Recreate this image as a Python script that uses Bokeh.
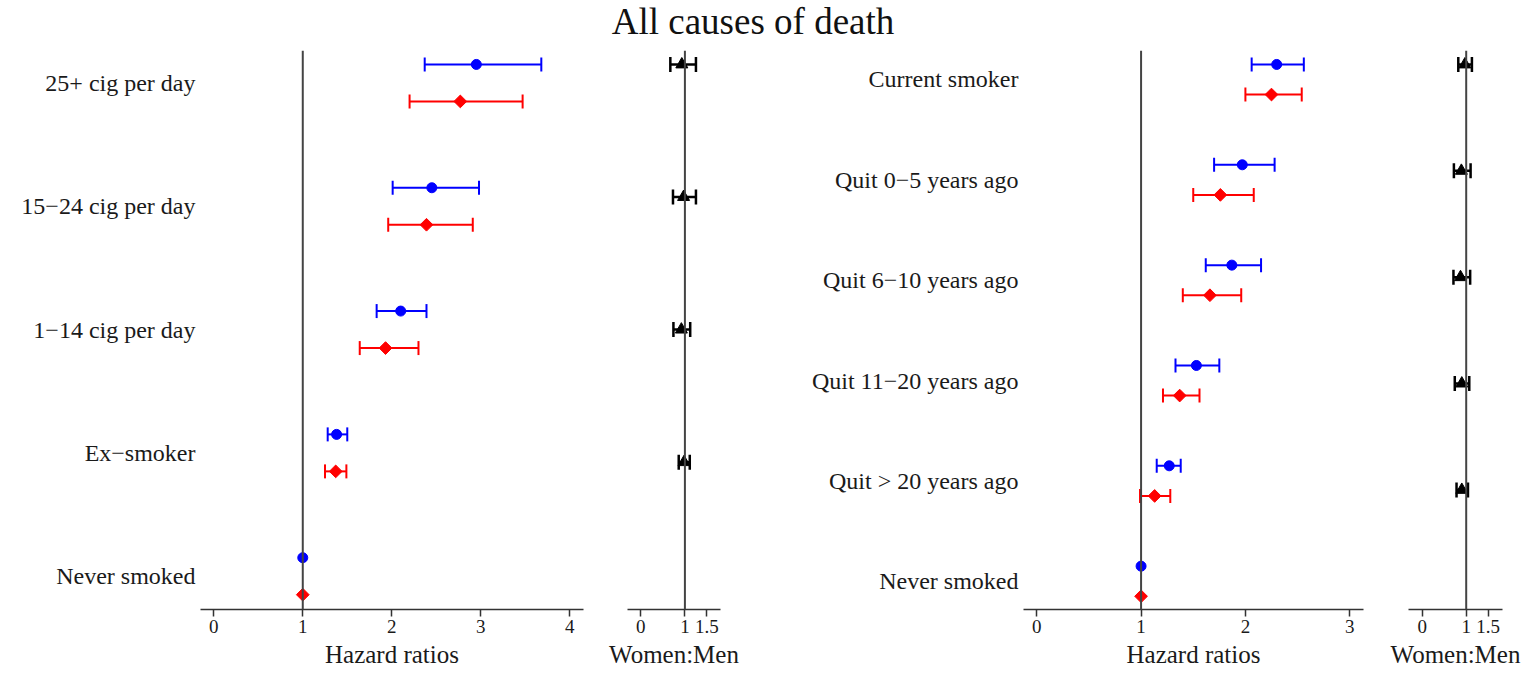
import numpy as np
from bokeh.plotting import figure
from bokeh.models import (ColumnDataSource, Whisker, TeeHead, Span, FixedTicker,
                          Range1d, Div)
from bokeh.layouts import row, column
from bokeh.embed import file_html
from bokeh.resources import INLINE

# ---------------- data (bottom to top) ----------------
title_text = "All causes of death"

left_categories = ["Never smoked", "Ex\u2212smoker", "1\u221214 cig per day",
                   "15\u221224 cig per day", "25+ cig per day"]
left_men = [1.00, 1.38, 2.10, 2.45, 2.95]
left_men_lo = [None, 1.28, 1.83, 2.01, 2.37]
left_men_hi = [None, 1.50, 2.39, 2.98, 3.68]
left_women = [1.00, 1.37, 1.93, 2.39, 2.77]
left_women_lo = [None, 1.25, 1.64, 1.96, 2.20]
left_women_hi = [None, 1.49, 2.30, 2.91, 3.47]
left_ratio = [None, 0.98, 0.92, 0.97, 0.93]
left_ratio_lo = [None, 0.86, 0.74, 0.73, 0.67]
left_ratio_hi = [None, 1.11, 1.12, 1.25, 1.25]

right_categories = ["Never smoked", "Quit > 20 years ago", "Quit 11\u221220 years ago",
                    "Quit 6\u221210 years ago", "Quit 0\u22125 years ago", "Current smoker"]
right_men = [1.00, 1.27, 1.53, 1.87, 1.97, 2.30]
right_men_lo = [None, 1.15, 1.33, 1.62, 1.70, 2.06]
right_men_hi = [None, 1.38, 1.75, 2.15, 2.28, 2.56]
right_women = [1.00, 1.13, 1.37, 1.66, 1.76, 2.25]
right_women_lo = [None, 0.99, 1.21, 1.40, 1.50, 2.00]
right_women_hi = [None, 1.28, 1.56, 1.96, 2.08, 2.54]
right_ratio = [None, 0.90, 0.90, 0.87, 0.89, 0.97]
right_ratio_lo = [None, 0.78, 0.74, 0.71, 0.72, 0.82]
right_ratio_hi = [None, 1.04, 1.07, 1.09, 1.10, 1.13]

hr_ticks_left = [0, 1, 2, 3, 4]
hr_ticks_right = [0, 1, 2, 3]
ratio_ticks = [0, 1, 1.5]
x_label_main = "Hazard ratios"
x_label_ratio = "Women:Men"

# ---------------- styling ----------------
FONT = "Liberation Serif"
BLUE = "#0000ff"
RED = "#ff0000"
INK = "#1a1a1a"
OFF = 0.15
FIG_H = 630


def style_x(p, ticks, overrides=None):
    ax = p.xaxis[0]
    ax.ticker = FixedTicker(ticks=ticks)
    if overrides:
        ax.major_label_overrides = overrides
    ax.axis_line_color = "#333333"
    ax.axis_line_width = 1.5
    ax.major_tick_line_color = "#333333"
    ax.major_tick_line_width = 1.5
    ax.major_tick_out = 7
    ax.major_tick_in = 0
    ax.minor_tick_line_color = None
    ax.major_label_text_font = FONT
    ax.major_label_text_font_size = "19px"
    ax.major_label_text_color = INK
    ax.major_label_standoff = 3
    ax.axis_label_text_font = FONT
    ax.axis_label_text_font_size = "25px"
    ax.axis_label_text_font_style = "normal"
    ax.axis_label_text_color = INK
    ax.axis_label_standoff = 5


def base_fig(width, bl, br, xr, yr, with_y):
    p = figure(width=width, height=FIG_H, x_range=Range1d(*xr), y_range=Range1d(*yr),
               output_backend="svg", toolbar_location=None,
               min_border_left=bl, min_border_right=br, min_border_top=6,
               min_border_bottom=65, outline_line_color=None,
               y_axis_location="left" if with_y else None,
               background_fill_color="white", border_fill_color="white")
    p.grid.visible = False
    p.add_layout(Span(location=1, dimension="height", line_color="#444444", line_width=2))
    return p


def whisker(p, src, color, lw, size):
    w = Whisker(source=src, base="y", lower="lo", upper="hi", dimension="width",
                line_color=color, line_width=lw,
                upper_head=TeeHead(size=size, line_color=color, line_width=lw),
                lower_head=TeeHead(size=size, line_color=color, line_width=lw),
                level="underlay")
    p.add_layout(w)


def y_span(n):
    return (-0.27 if n == 5 else -0.282, (n - 1) + (0.263 if n == 5 else 0.289))


def main_panel(cats, men, men_lo, men_hi, wom, wom_lo, wom_hi, xr, ticks, width, bl, br, xlabel):
    n = len(cats)
    p = base_fig(width, bl, br, xr, y_span(n), True)
    ypos = np.arange(n, dtype=float)
    idx = [i for i in range(n) if men_lo[i] is not None]
    ms = ColumnDataSource(dict(y=[ypos[i] + OFF for i in idx], lo=[men_lo[i] for i in idx],
                               hi=[men_hi[i] for i in idx]))
    ws = ColumnDataSource(dict(y=[ypos[i] - OFF for i in idx], lo=[wom_lo[i] for i in idx],
                               hi=[wom_hi[i] for i in idx]))
    whisker(p, ms, BLUE, 2, 14)
    whisker(p, ws, RED, 2, 14)
    p.scatter(x=men, y=list(ypos + OFF), marker="circle", size=10,
              fill_color=BLUE, line_color=BLUE)
    p.scatter(x=wom, y=list(ypos - OFF), marker="square", size=9, angle=np.pi / 4,
              fill_color=RED, line_color=RED)
    style_x(p, ticks)
    p.xaxis.axis_label = xlabel
    ya = p.yaxis[0]
    ya.ticker = FixedTicker(ticks=list(range(n)))
    ya.major_label_overrides = {i: c for i, c in enumerate(cats)}
    ya.axis_line_color = None
    ya.major_tick_line_color = None
    ya.major_tick_out = 0
    ya.major_tick_in = 0
    ya.minor_tick_line_color = None
    ya.minor_tick_out = 0
    ya.major_label_standoff = 5
    ya.major_label_text_font = FONT
    ya.major_label_text_font_size = "24px"
    ya.major_label_text_color = INK
    return p


def ratio_panel(n, ratio, lo, hi, xr, width, bl, br, xlabel):
    p = base_fig(width, bl, br, xr, y_span(n), False)
    rows = np.linspace(-OFF, (n - 1) + OFF, n)
    idx = [i for i in range(n) if ratio[i] is not None]
    src = ColumnDataSource(dict(y=[rows[i] for i in idx], x=[ratio[i] for i in idx],
                                lo=[lo[i] for i in idx], hi=[hi[i] for i in idx]))
    whisker(p, src, "black", 2.5, 15)
    p.scatter(x="x", y="y", source=src, marker="triangle", size=12,
              fill_color="black", line_color="black")
    style_x(p, ratio_ticks, {0: "0", 1: "1", 1.5: "1.5"})
    p.xaxis.axis_label = xlabel
    return p


pA = main_panel(left_categories, left_men, left_men_lo, left_men_hi,
                left_women, left_women_lo, left_women_hi,
                (-0.149, 4.154), hr_ticks_left, 605, 200, 22, x_label_main)
pB = ratio_panel(5, left_ratio, left_ratio_lo, left_ratio_hi,
                 (-0.30, 1.806), 140, 22, 25, x_label_ratio)
pC = main_panel(right_categories, right_men, right_men_lo, right_men_hi,
                right_women, right_women_lo, right_women_hi,
                (-0.127, 3.132), hr_ticks_right, 641, 278, 23, x_label_main)
pD = ratio_panel(6, right_ratio, right_ratio_lo, right_ratio_hi,
                 (-0.313, 1.826), 146, 22, 30, x_label_ratio)

title = Div(text=title_text, width=1506, height=44, margin=0,
            styles={"font-family": FONT, "font-size": "37px", "text-align": "center",
                    "line-height": "44px", "color": "#111111"})

layout = column(title, row(pA, pB, pC, pD, spacing=0), spacing=0)

with open("out.html", "w") as f:
    f.write(file_html(layout, INLINE))
